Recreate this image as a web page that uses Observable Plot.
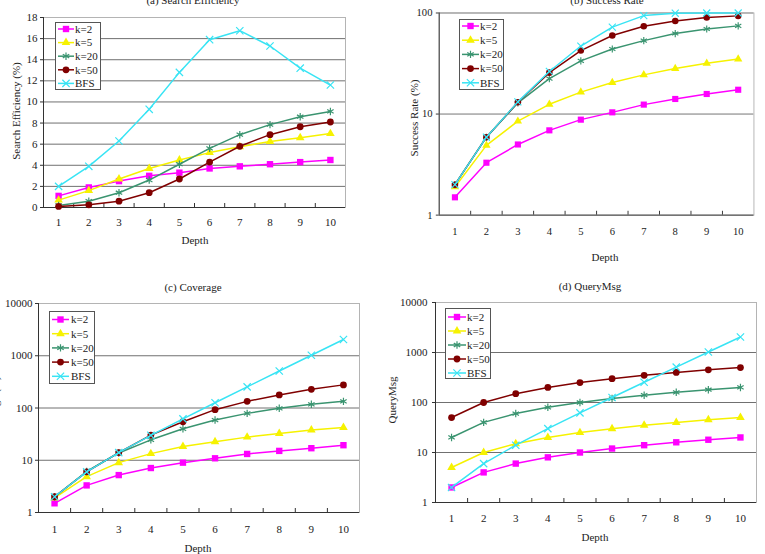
<!DOCTYPE html>
<html>
<head>
<meta charset="utf-8">
<script src="https://cdn.jsdelivr.net/npm/d3@7"></script>
<script src="https://cdn.jsdelivr.net/npm/@observablehq/plot@0.6"></script>
<style>
  body { margin: 0; background: #fff; overflow: hidden; }
  #root { position: relative; width: 765px; height: 554px; overflow: hidden; background: #fff; }
  .panel { position: absolute; }
  #overlay { position: absolute; left: 0; top: 0; pointer-events: none; }
</style>
</head>
<body>
<div id="root"></div>
<script>
// Search depth on the x axis of every panel
const depths = [1, 2, 3, 4, 5, 6, 7, 8, 9, 10];
const seriesNames = ["k=2", "k=5", "k=20", "k=50", "BFS"];

// Tick values
const yTicksEfficiency = [0, 2, 4, 6, 8, 10, 12, 14, 16, 18];
const yTicksSuccess = [1, 10, 100];
const yTicksDecades = [1, 10, 100, 1000, 10000];

// (a) Search Efficiency (%)
const efficiencyK2 = [1.1, 1.9, 2.5, 3.0, 3.3, 3.7, 3.9, 4.1, 4.3, 4.5];
const efficiencyK5 = [0.7, 1.6, 2.7, 3.7, 4.5, 5.2, 5.75, 6.25, 6.6, 7.0];
const efficiencyK20 = [0.2, 0.6, 1.4, 2.6, 4.1, 5.6, 6.9, 7.85, 8.6, 9.1];
const efficiencyK50 = [0.1, 0.25, 0.6, 1.4, 2.7, 4.3, 5.8, 6.9, 7.65, 8.1];
const efficiencyBFS = [2.0, 3.9, 6.3, 9.3, 12.8, 15.9, 16.75, 15.3, 13.2, 11.6];

// (b) Success Rate (%)
const successK2 = [1.5, 3.3, 5.0, 6.9, 8.8, 10.4, 12.4, 14.1, 15.8, 17.4];
const successK5 = [1.9, 4.9, 8.5, 12.5, 16.5, 20.5, 24.4, 28.2, 31.8, 35];
const successK20 = [2.0, 5.9, 12.9, 22.4, 33.6, 44, 53.3, 62.6, 69.4, 74.6];
const successK50 = [2.0, 5.9, 13.1, 25.7, 42.5, 59.9, 74, 83.3, 90.3, 93.6];
const successBFS = [2.0, 5.9, 13.2, 26.4, 47.1, 72.5, 94.3, 99.5, 100, 100];

// (c) Coverage
const coverageK2 = [1.5, 3.3, 5.2, 7.1, 9.0, 10.9, 13.2, 15.1, 17, 19.4];
const coverageK5 = [1.9, 4.85, 9.0, 13.4, 18.3, 22.5, 27.7, 32.6, 37.8, 42.5];
const coverageK20 = [2, 6.1, 13.8, 24.6, 40, 58.8, 78.9, 98.6, 117.7, 134];
const coverageK50 = [2, 6, 14, 30.3, 54.6, 92.9, 134, 178, 228, 277];
const coverageBFS = [2, 6, 14, 30, 62, 126, 254, 510, 1022, 2046];

// (d) QueryMsg
const queryK2 = [2, 4, 6, 8, 10, 12, 14, 16, 18, 20];
const queryK5 = [5, 10, 15, 20, 25, 30, 35, 40, 45, 50];
const queryK20 = [20, 40, 60, 80, 100, 120, 140, 160, 180, 200];
const queryK50 = [50, 100, 150, 200, 250, 300, 350, 400, 450, 500];
const queryBFS = [2, 6, 14, 30, 62, 126, 254, 510, 1022, 2046];

// Line / marker appearance of each series
const seriesStyle = [
  {color: "#ff00ff", symbol: "square", filled: true, r: 3.6},
  {color: "#f6f200", symbol: "triangle", filled: true, r: 3.2},
  {color: "#3a9470", symbol: "asterisk", filled: false, r: 3.5},
  {color: "#800000", symbol: "circle", filled: true, r: 3.4},
  {color: "#38e4f4", symbol: "times", filled: false, r: 3.4}
];

const FONT = "'Liberation Serif', 'Times New Roman', serif";

const panels = [
  {
    title: "(a) Search Efficiency", values: [efficiencyK2, efficiencyK5, efficiencyK20, efficiencyK50, efficiencyBFS],
    yType: "linear", yDomain: [0, 18], yTicks: yTicksEfficiency, grid: yTicksEfficiency.slice(1),
    box: {left: 0, top: 0, width: 380, height: 265, ml: 43, mr: 35, mt: 17, mb: 58},
    xPad: 11, yPad: 3, ylabel: "Search Efficiency (%)",
    titlePos: [193, 4], xlabelPos: [195, 244], ylabelPos: [16.5, 111],
    legend: {x: 55, y: 22, w: 45, h: 67, row0: 7, step: 13.6, seg: [3, 19], text: 20}
  },
  {
    title: "(b) Success Rate", values: [successK2, successK5, successK20, successK50, successBFS],
    yType: "log", yDomain: [1, 100], yTicks: yTicksSuccess, grid: [10, 100],
    box: {left: 380, top: 0, width: 400, height: 265, ml: 61, mr: 12, mt: 13, mb: 42},
    xPad: 13, yPad: 4, ylabel: "Success Rate (%)",
    titlePos: [607, 4], xlabelPos: [605, 261], ylabelPos: [414, 118],
    legend: {x: 459, y: 19, w: 44, h: 70, row0: 7, step: 14.2, seg: [3, 20], text: 21}
  },
  {
    title: "(c) Coverage", values: [coverageK2, coverageK5, coverageK20, coverageK50, coverageBFS],
    yType: "log", yDomain: [1, 10000], yTicks: yTicksDecades, grid: [10, 100, 1000, 10000],
    box: {left: 0, top: 270, width: 380, height: 284, ml: 38, mr: 21, mt: 33, mb: 42},
    xPad: 13, yPad: 3, ylabel: "Coverage (%)",
    titlePos: [193, 291], xlabelPos: [198, 552], ylabelPos: [-5, 407],
    legend: {x: 49, y: 311, w: 45, h: 72, row0: 8.5, step: 14.2, seg: [3, 20], text: 22}
  },
  {
    title: "(d) QueryMsg", values: [queryK2, queryK5, queryK20, queryK50, queryBFS],
    yType: "log", yDomain: [1, 10000], yTicks: yTicksDecades, grid: [10, 100, 1000, 10000],
    box: {left: 380, top: 270, width: 385, height: 284, ml: 55, mr: 9, mt: 32, mb: 52},
    xPad: 12, yPad: 5, ylabel: "QueryMsg",
    titlePos: [590, 290], xlabelPos: [595, 541], ylabelPos: [392.5, 400],
    legend: {x: 445, y: 308, w: 45, h: 70, row0: 9, step: 14, seg: [3, 21], text: 22}
  }
];

const root = document.getElementById("root");
const boundaries = depths.slice(0, -1).map(d => d + 0.5);

function buildRows(values) {
  return seriesNames.flatMap((s, i) => depths.map((d, j) => ({series: s, depth: d, value: values[i][j]})));
}

for (const p of panels) {
  const b = p.box;
  const innerH = b.height - b.mt - b.mb;
  const rows = buildRows(p.values);
  const seriesMarks = seriesNames.flatMap((s, i) => {
    const st = seriesStyle[i];
    return [
      Plot.line(rows, {filter: r => r.series === s, x: "depth", y: "value", stroke: st.color, strokeWidth: 1.5}),
      Plot.dot(rows, {
        filter: r => r.series === s, x: "depth", y: "value", symbol: st.symbol, r: st.r,
        fill: st.filled ? st.color : "none", stroke: st.filled ? "none" : st.color, strokeWidth: 1.2
      })
    ];
  });
  const chart = Plot.plot({
    width: b.width, height: b.height,
    marginLeft: b.ml, marginRight: b.mr, marginTop: b.mt, marginBottom: b.mb,
    style: {fontFamily: FONT, fontSize: "11px", color: "#222", background: "transparent", overflow: "visible"},
    x: {type: "linear", domain: [0.5, 10.5], axis: null},
    y: {type: p.yType, domain: p.yDomain, axis: null},
    marks: [
      Plot.gridY(p.grid, {stroke: "#707070", strokeOpacity: 1}),
      Plot.frame({stroke: "#b4b4b4"}),
      Plot.ruleX([0.5], {stroke: "#333"}),
      Plot.ruleY([p.yDomain[0]], {stroke: "#333"}),
      Plot.tickX(boundaries, {x: d => d, stroke: "#333", insetTop: innerH - 4}),
      Plot.axisX({ticks: depths, tickSize: 0, tickPadding: p.xPad, tickFormat: d => String(d), label: null, fill: "#222"}),
      Plot.axisY({ticks: p.yTicks, tickSize: 3, tickPadding: p.yPad, tickFormat: d => String(d), label: null, fill: "#222", stroke: "#333"}),
      ...seriesMarks
    ]
  });
  const div = document.createElement("div");
  div.className = "panel";
  div.style.left = b.left + "px";
  div.style.top = b.top + "px";
  div.appendChild(chart);
  root.appendChild(div);
}

// Titles, axis labels and legends drawn over the panels
const overlay = d3.select(root).append("svg")
  .attr("id", "overlay").attr("width", 765).attr("height", 554)
  .style("font-family", FONT).style("font-size", "11px");

for (const p of panels) {
  overlay.append("text").attr("x", p.titlePos[0]).attr("y", p.titlePos[1])
    .attr("text-anchor", "middle").attr("fill", "#222").text(p.title);
  overlay.append("text").attr("x", p.xlabelPos[0]).attr("y", p.xlabelPos[1])
    .attr("text-anchor", "middle").attr("fill", "#222").text("Depth");
  overlay.append("text")
    .attr("transform", `translate(${p.ylabelPos[0]},${p.ylabelPos[1]}) rotate(-90)`)
    .attr("text-anchor", "middle").attr("dy", "0.35em").attr("fill", "#222").text(p.ylabel);

  const L = p.legend;
  const g = overlay.append("g").attr("transform", `translate(${L.x},${L.y})`);
  g.append("rect").attr("x", 0.5).attr("y", 0.5).attr("width", L.w).attr("height", L.h)
    .attr("fill", "#fff").attr("stroke", "#555").attr("stroke-width", 1);
  seriesNames.forEach((s, i) => {
    const st = seriesStyle[i];
    const y = L.row0 + i * L.step;
    const mid = (L.seg[0] + L.seg[1]) / 2;
    g.append("line").attr("x1", L.seg[0]).attr("x2", L.seg[1]).attr("y1", y).attr("y2", y)
      .attr("stroke", st.color).attr("stroke-width", 1.5);
    const sym = {square: d3.symbolSquare, triangle: d3.symbolTriangle, asterisk: d3.symbolAsterisk,
                 circle: d3.symbolCircle, times: d3.symbolTimes}[st.symbol];
    g.append("path").attr("transform", `translate(${mid},${y})`)
      .attr("d", d3.symbol(sym, Math.PI * st.r * st.r)())
      .attr("fill", st.filled ? st.color : "none")
      .attr("stroke", st.filled ? "none" : st.color).attr("stroke-width", 1.2);
    g.append("text").attr("x", L.text).attr("y", y).attr("dy", "0.35em").attr("fill", "#222").text(s);
  });
}
</script>
</body>
</html>
